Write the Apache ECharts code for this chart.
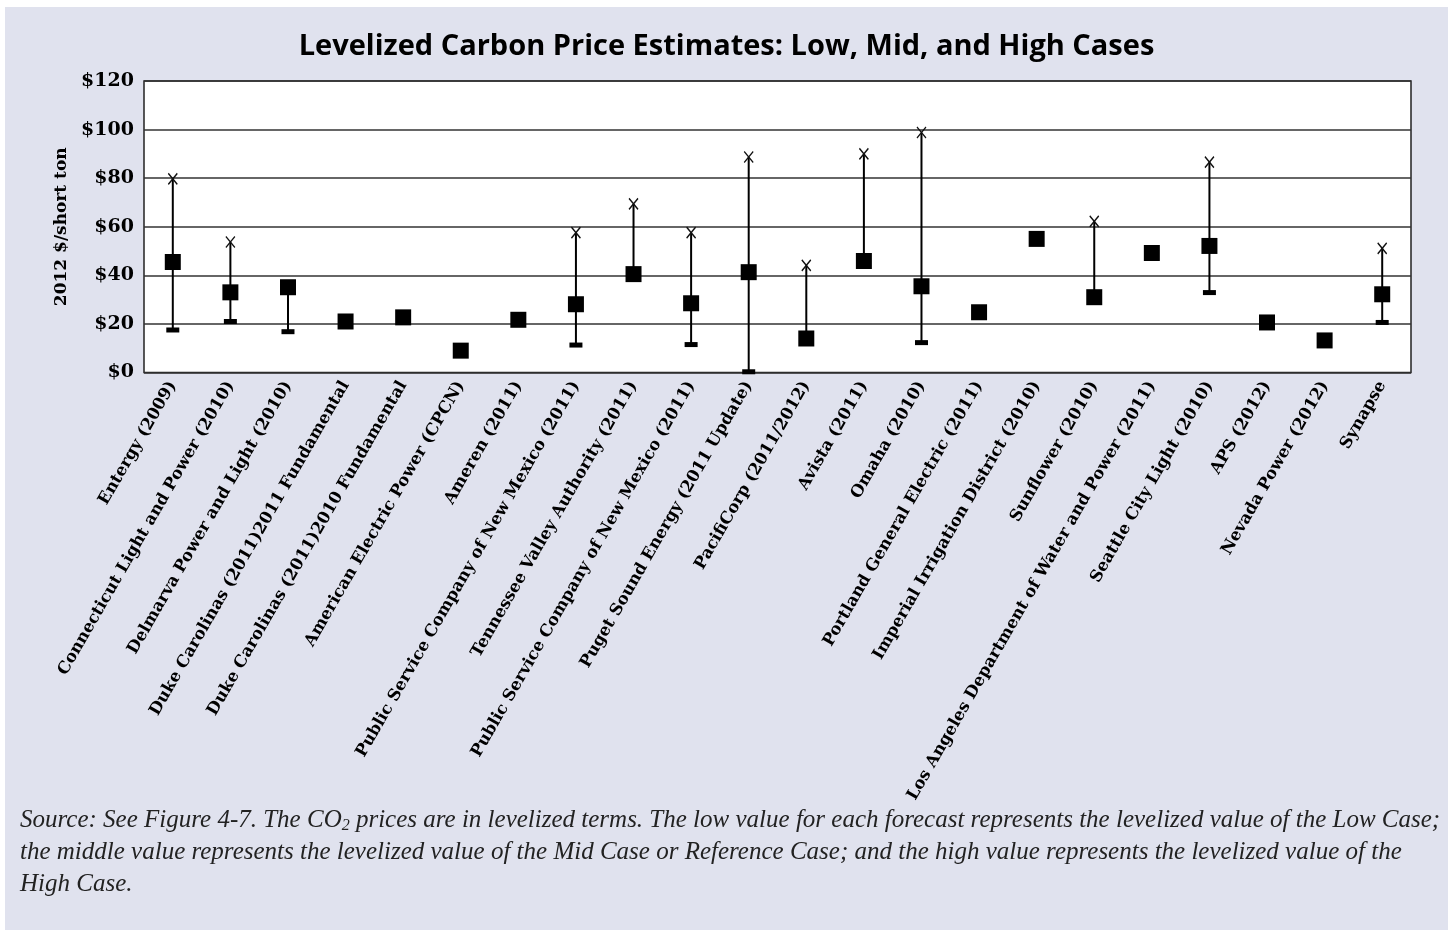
<!DOCTYPE html>
<html>
<head>
<meta charset="utf-8">
<script src="https://cdn.jsdelivr.net/npm/echarts@6/dist/echarts.min.js"></script>
<style>
html,body{margin:0;padding:0;background:#ffffff;width:1453px;height:930px;overflow:hidden;}
#main{position:absolute;left:5px;top:7px;width:1443px;height:923px;}
</style>
</head>
<body>
<div id="main"></div>
<script>
const categories = [
  'Entergy (2009)',
  'Connecticut Light and Power (2010)',
  'Delmarva Power and Light (2010)',
  'Duke Carolinas (2011)2011 Fundamental',
  'Duke Carolinas (2011)2010 Fundamental',
  'American Electric Power (CPCN)',
  'Ameren (2011)',
  'Public Service Company of New Mexico (2011)',
  'Tennessee Valley Authority (2011)',
  'Public Service Company of New Mexico (2011)',
  'Puget Sound Energy (2011 Update)',
  'PacifiCorp (2011/2012)',
  'Avista (2011)',
  'Omaha (2010)',
  'Portland General Electric (2011)',
  'Imperial Irrigation District (2010)',
  'Sunflower (2010)',
  'Los Angeles Department of Water and Power (2011)',
  'Seattle City Light (2010)',
  'APS (2012)',
  'Nevada Power (2012)',
  'Synapse'
];
const lowCase  = [17.5, 21, 16.8, null, null, null, null, 11.3, null, 11.5, 0.3, null, null, 12.3, null, null, null, null, 32.9, null, null, 20.6];
const midCase  = [45.5, 33, 35.1, 21, 22.7, 9, 21.7, 28.1, 40.5, 28.5, 41.3, 14, 45.9, 35.5, 24.8, 55, 31, 49.2, 52.1, 20.6, 13.2, 32.2];
const highCase = [79.7, 53.7, null, null, null, null, null, 57.6, 69.4, 57.6, 88.7, 44.1, 90, 98.8, null, null, 62.2, null, 86.6, null, null, 51.1];
const yTicks = [0, 20, 40, 60, 80, 100, 120];

const serif = '"DejaVu Serif", "Liberation Serif", serif';
const chart = echarts.init(document.getElementById('main'));

const rangeData = categories.map((c, i) => {
  const vals = [lowCase[i], midCase[i], highCase[i]].filter(v => v !== null);
  return [i, Math.min.apply(null, vals), Math.max.apply(null, vals)];
});

const footFont = '"Liberation Serif", serif';
const footStyle = {fontFamily: footFont, fontStyle: 'italic', fontSize: 25, fill: '#222'};

chart.setOption({
  backgroundColor: '#E0E2EE',
  animation: false,
  title: {
    text: 'Levelized Carbon Price Estimates: Low, Mid, and High Cases',
    left: 'center',
    top: 20,
    textStyle: {fontFamily: '"Open Sans", sans-serif', fontWeight: 'bold', fontSize: 29, color: '#000'}
  },
  grid: {
    left: 139, top: 74, right: 37, bottom: 557.5,
    show: true, backgroundColor: '#ffffff', borderColor: '#222', borderWidth: 1.5
  },
  xAxis: {
    type: 'category',
    data: categories,
    boundaryGap: true,
    axisLine: {show: false},
    axisTick: {show: false},
    splitLine: {show: false},
    axisLabel: {
      rotate: 60, interval: 0, margin: 10,
      fontFamily: serif, fontWeight: 'bold', fontSize: 16.5, color: '#000'
    }
  },
  yAxis: {
    type: 'value',
    min: yTicks[0], max: yTicks[yTicks.length - 1], interval: 20,
    name: '2012 $/short ton',
    nameLocation: 'middle',
    nameGap: 74,
    nameRotate: 90,
    nameTextStyle: {fontFamily: serif, fontWeight: 'bold', fontSize: 17, color: '#000'},
    axisLine: {show: false},
    axisTick: {show: false},
    splitLine: {show: true, lineStyle: {color: '#333', width: 1.5}},
    axisLabel: {
      margin: 10,
      formatter: v => '$' + v,
      fontFamily: serif, fontWeight: 'bold', fontSize: 19, color: '#000'
    }
  },
  series: [
    {
      type: 'custom',
      name: 'range',
      data: rangeData,
      z: 3,
      renderItem: function (params, api) {
        const p1 = api.coord([api.value(0), api.value(1)]);
        const p2 = api.coord([api.value(0), api.value(2)]);
        return {
          type: 'line',
          shape: {x1: p1[0], y1: p1[1], x2: p2[0], y2: p2[1]},
          style: {stroke: '#000', lineWidth: 2}
        };
      }
    },
    {
      type: 'scatter',
      name: 'Low',
      data: lowCase.map((v, i) => [i, v]).filter(d => d[1] !== null),
      symbol: 'rect',
      symbolSize: [13, 5],
      itemStyle: {color: '#000', opacity: 1},
      z: 4
    },
    {
      type: 'scatter',
      name: 'High',
      data: highCase.map((v, i) => [i, v]).filter(d => d[1] !== null),
      symbol: 'path://M0,0L10,12M10,0L0,12',
      symbolSize: [9, 11],
      itemStyle: {color: 'none', borderColor: '#111', borderWidth: 1.4, opacity: 1},
      z: 4
    },
    {
      type: 'scatter',
      name: 'Mid',
      data: midCase.map((v, i) => [i, v]),
      symbol: 'rect',
      symbolSize: 16,
      itemStyle: {color: '#000', opacity: 1},
      z: 5
    }
  ],
  graphic: [
    {
      type: 'text', left: 15, top: 801,
      style: Object.assign({}, footStyle, {
        text: 'Source: See Figure 4-7. The CO{sub|2} prices are in levelized terms. The low value for each forecast represents the levelized value of the Low Case;',
        rich: {sub: {fontFamily: footFont, fontStyle: 'italic', fontSize: 16, padding: [11, 0, 0, 0], fill: '#222'}}
      })
    },
    {
      type: 'text', left: 15, top: 833,
      style: Object.assign({}, footStyle, {
        text: 'the middle value represents the levelized value of the Mid Case or Reference Case; and the high value represents the levelized value of the'
      })
    },
    {
      type: 'text', left: 15, top: 865,
      style: Object.assign({}, footStyle, {text: 'High Case.'})
    }
  ]
});
</script>
</body>
</html>
